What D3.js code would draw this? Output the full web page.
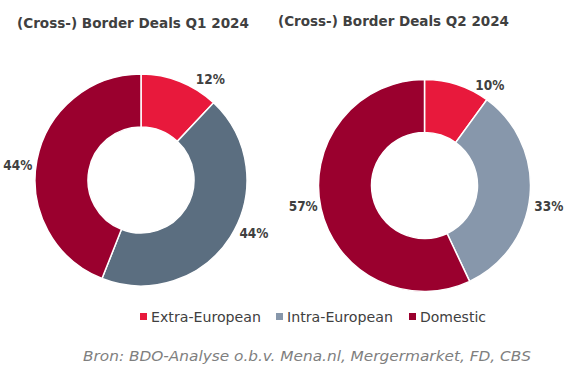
<!DOCTYPE html>
<html>
<head>
<meta charset="utf-8">
<script src="https://cdn.jsdelivr.net/npm/d3@7/dist/d3.min.js"></script>
<style>
  html, body { margin: 0; padding: 0; background: #fff; }
  svg { display: block; font-family: "DejaVu Sans Condensed", "DejaVu Sans", sans-serif; }
</style>
</head>
<body>
<svg id="chart" width="568" height="367"></svg>
<script>
// ---- data ----
const categories = ["Extra-European", "Intra-European", "Domestic"];
const titles = ["(Cross-) Border Deals Q1 2024", "(Cross-) Border Deals Q2 2024"];
const valuesQ1 = [12, 44, 44];
const valuesQ2 = [10, 33, 57];
const sourceText = "Bron: BDO-Analyse o.b.v. Mena.nl, Mergermarket, FD, CBS";

// ---- styles / layout ----
const coloursQ1 = ["#e8193c", "#5b6e80", "#9a002e"];
const coloursQ2 = ["#e8193c", "#8797ab", "#9a002e"];
const legendColours = ["#e8193c", "#8797ab", "#9a002e"];
const textColour = "#404040";

const charts = [
  { title: titles[0], values: valuesQ1, colours: coloursQ1, cx: 141, cy: 180, titleX: 17, titleY: 28, titleW: 232,
    labelNudge: [13, -7, -4], labelR: [122, 125, 124] },
  { title: titles[1], values: valuesQ2, colours: coloursQ2, cx: 424.5, cy: 185.5, titleX: 278, titleY: 26, titleW: 231,
    labelNudge: [15, 4, 3], labelR: [120, 126, 123] }
];
const outerR = 106, innerR = 53;

const svg = d3.select("#chart");
const pie = d3.pie().sort(null).value(d => d);
const arc = d3.arc().innerRadius(innerR).outerRadius(outerR);

charts.forEach(c => {
  svg.append("text")
    .attr("x", c.titleX).attr("y", c.titleY)
    .attr("font-size", 14.5).attr("font-weight", "bold")
    .attr("textLength", c.titleW).attr("lengthAdjust", "spacingAndGlyphs")
    .attr("fill", textColour)
    .text(c.title);

  const g = svg.append("g").attr("transform", `translate(${c.cx},${c.cy})`);
  const arcs = pie(c.values);
  g.selectAll("path").data(arcs).join("path")
    .attr("d", arc)
    .attr("fill", (d, i) => c.colours[i])
    .attr("stroke", "#fff").attr("stroke-width", 1.5);

  g.selectAll("text.lbl").data(arcs).join("text")
    .attr("class", "lbl")
    .attr("transform", (d, i) => {
      const a = (d.startAngle + d.endAngle) / 2 + c.labelNudge[i] * Math.PI / 180;
      const r = c.labelR[i];
      return `translate(${Math.sin(a) * r},${-Math.cos(a) * r})`;
    })
    .attr("text-anchor", "middle").attr("dy", "0.36em")
    .attr("font-size", 13.5).attr("font-weight", "bold")
    .attr("fill", textColour)
    .text(d => d.value + "%");
});

// legend
const legendX = [140, 276, 409];
const legendW = [110, 106, 66];
const lg = svg.append("g").attr("transform", "translate(0,322)");
categories.forEach((cat, i) => {
  lg.append("rect").attr("x", legendX[i]).attr("y", -9).attr("width", 7).attr("height", 7)
    .attr("fill", legendColours[i]);
  lg.append("text").attr("x", legendX[i] + 11).attr("y", 0)
    .attr("font-size", 14.5).attr("fill", textColour)
    .attr("textLength", legendW[i]).attr("lengthAdjust", "spacingAndGlyphs")
    .text(cat);
});

svg.append("text")
  .attr("x", 83).attr("y", 361)
  .attr("font-size", 14).attr("font-style", "italic")
  .attr("textLength", 448).attr("lengthAdjust", "spacingAndGlyphs")
  .attr("fill", "#7f7f7f")
  .text(sourceText);
</script>
</body>
</html>
